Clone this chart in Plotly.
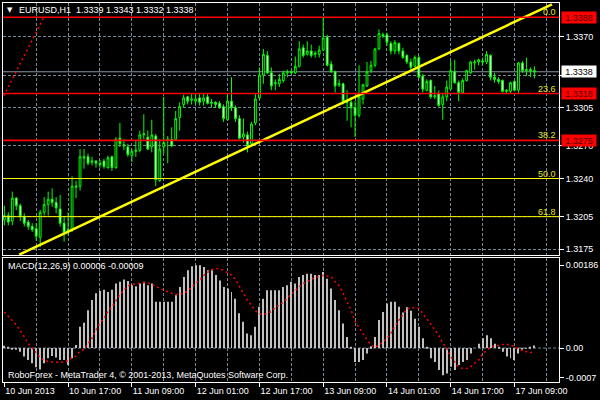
import plotly.graph_objects as go

# ---------------- data ----------------
bar_index = list(range(134))

opens = [1.3202,1.3206,1.3201,1.3222,1.3215,1.3205,1.3200,1.3196,1.3194,1.3186,
         1.3209,1.3216,1.3221,1.3218,1.3212,1.3199,1.3192,1.3193,1.3232,1.3233,
         1.3260,1.3260,1.3255,1.3256,1.3254,1.3256,1.3250,1.3260,1.3250,1.3277,
         1.3271,1.3269,1.3261,1.3265,1.3266,1.3280,1.3278,1.3269,1.3279,1.3238,
         1.3269,1.3275,1.3276,1.3276,1.3296,1.3308,1.3315,1.3312,1.3311,1.3314,
         1.3311,1.3315,1.3309,1.3310,1.3309,1.3306,1.3294,1.3311,1.3305,1.3295,
         1.3278,1.3280,1.3272,1.3291,1.3314,1.3335,1.3353,1.3337,1.3327,1.3327,
         1.3330,1.3337,1.3338,1.3337,1.3343,1.3360,1.3354,1.3357,1.3354,1.3354,
         1.3358,1.3370,1.3345,1.3338,1.3326,1.3327,1.3311,1.3310,1.3305,1.3298,
         1.3313,1.3325,1.3339,1.3344,1.3359,1.3372,1.3372,1.3364,1.3357,1.3364,
         1.3357,1.3353,1.3347,1.3343,1.3351,1.3334,1.3321,1.3330,1.3315,1.3318,
         1.3308,1.3315,1.3322,1.3338,1.3328,1.3319,1.3330,1.3337,1.3346,1.3347,
         1.3348,1.3347,1.3353,1.3333,1.3331,1.3330,1.3320,1.3320,1.3329,1.3321,
         1.3346,1.3339,1.3340,1.3339]
highs = [1.3215,1.3209,1.3228,1.3223,1.3217,1.3208,1.3202,1.3199,1.3199,1.3211,
         1.3223,1.3228,1.3231,1.3223,1.3225,1.3205,1.3209,1.3242,1.3238,1.3267,
         1.3267,1.3263,1.3260,1.3257,1.3257,1.3258,1.3261,1.3261,1.3278,1.3291,
         1.3276,1.3272,1.3267,1.3275,1.3284,1.3299,1.3284,1.3294,1.3281,1.3276,
         1.3315,1.3279,1.3287,1.3302,1.3310,1.3317,1.3316,1.3318,1.3317,1.3318,
         1.3318,1.3318,1.3313,1.3311,1.3311,1.3308,1.3318,1.3333,1.3307,1.3298,
         1.3295,1.3283,1.3292,1.3318,1.3342,1.3359,1.3357,1.3342,1.3331,1.3336,
         1.3339,1.3340,1.3340,1.3352,1.3366,1.3363,1.3366,1.3363,1.3357,1.3362,
         1.3388,1.3372,1.3348,1.3339,1.3331,1.3328,1.3321,1.3315,1.3311,1.3344,
         1.3327,1.3347,1.3348,1.3360,1.3377,1.3374,1.3374,1.3366,1.3367,1.3365,
         1.3360,1.3354,1.3350,1.3353,1.3353,1.3336,1.3331,1.3331,1.3325,1.3321,
         1.3318,1.3330,1.3348,1.3349,1.3330,1.3332,1.3340,1.3348,1.3349,1.3350,
         1.3351,1.3357,1.3354,1.3337,1.3333,1.3331,1.3322,1.3329,1.3330,1.3347,
         1.3348,1.3351,1.3342,1.3343]
lows = [1.3197,1.3197,1.3197,1.3211,1.3201,1.3196,1.3193,1.3191,1.3183,1.3177,
        1.3206,1.3206,1.3214,1.3208,1.3196,1.3182,1.3188,1.3191,1.3222,1.3229,
        1.3249,1.3252,1.3252,1.3250,1.3250,1.3249,1.3249,1.3247,1.3249,1.3269,
        1.3266,1.3260,1.3255,1.3260,1.3264,1.3276,1.3266,1.3264,1.3233,1.3237,
        1.3263,1.3254,1.3269,1.3275,1.3284,1.3305,1.3308,1.3308,1.3308,1.3307,
        1.3307,1.3308,1.3305,1.3305,1.3304,1.3292,1.3293,1.3302,1.3292,1.3276,
        1.3273,1.3264,1.3270,1.3289,1.3313,1.3327,1.3336,1.3321,1.3321,1.3324,
        1.3328,1.3333,1.3336,1.3336,1.3342,1.3351,1.3353,1.3351,1.3351,1.3351,
        1.3357,1.3343,1.3337,1.3319,1.3324,1.3308,1.3293,1.3287,1.3278,1.3296,
        1.3308,1.3324,1.3337,1.3342,1.3358,1.3369,1.3362,1.3354,1.3354,1.3354,
        1.3350,1.3345,1.3340,1.3342,1.3332,1.3319,1.3320,1.3313,1.3313,1.3306,
        1.3294,1.3311,1.3321,1.3327,1.3311,1.3318,1.3329,1.3336,1.3340,1.3344,
        1.3344,1.3345,1.3330,1.3328,1.3327,1.3319,1.3318,1.3318,1.3320,1.3318,
        1.3337,1.3334,1.3333,1.3332]
closes = [1.3206,1.3200,1.3222,1.3215,1.3205,1.3199,1.3196,1.3193,1.3187,1.3209,
          1.3216,1.3221,1.3218,1.3213,1.3199,1.3190,1.3193,1.3233,1.3233,1.3260,
          1.3259,1.3254,1.3256,1.3254,1.3253,1.3251,1.3259,1.3250,1.3276,1.3272,
          1.3270,1.3262,1.3265,1.3266,1.3280,1.3281,1.3267,1.3280,1.3239,1.3267,
          1.3273,1.3276,1.3270,1.3295,1.3306,1.3314,1.3311,1.3313,1.3313,1.3310,
          1.3314,1.3309,1.3310,1.3308,1.3305,1.3295,1.3311,1.3305,1.3295,1.3277,
          1.3281,1.3270,1.3290,1.3313,1.3335,1.3354,1.3337,1.3325,1.3328,1.3331,
          1.3337,1.3338,1.3337,1.3343,1.3359,1.3353,1.3357,1.3353,1.3355,1.3358,
          1.3369,1.3344,1.3338,1.3325,1.3327,1.3311,1.3310,1.3305,1.3298,1.3315,
          1.3326,1.3338,1.3344,1.3359,1.3373,1.3371,1.3365,1.3357,1.3365,1.3357,
          1.3351,1.3347,1.3342,1.3351,1.3333,1.3322,1.3329,1.3315,1.3316,1.3307,
          1.3315,1.3324,1.3339,1.3328,1.3319,1.3330,1.3339,1.3347,1.3347,1.3349,
          1.3347,1.3354,1.3333,1.3331,1.3329,1.3320,1.3321,1.3328,1.3321,1.3346,
          1.3339,1.3340,1.3339,1.3338]

macd_main = [0.00005,0.00001,-0.00002,-0.00004,-0.00008,-0.00019,-0.00027,-0.00034,-0.00043,-0.00048,
             -0.00034,-0.00023,-0.00018,-0.00021,-0.00027,-0.00027,-0.00038,-0.00023,0.00007,0.00048,
             0.00057,0.00085,0.00108,0.00123,0.00128,0.00131,0.00126,0.00131,0.00145,0.00149,
             0.00154,0.00151,0.00141,0.00139,0.00145,0.00149,0.00141,0.00145,0.00104,0.00104,
             0.00104,0.00104,0.00104,0.00119,0.00137,0.00160,0.00175,0.00184,0.00186,0.00186,
             0.00182,0.00175,0.00175,0.00164,0.00152,0.00137,0.00134,0.00126,0.00111,0.00078,
             0.00059,0.00033,0.00029,0.00048,0.00093,0.00111,0.00130,0.00130,0.00130,0.00130,
             0.00137,0.00141,0.00149,0.00145,0.00160,0.00164,0.00167,0.00167,0.00164,0.00164,
             0.00171,0.00156,0.00134,0.00108,0.00085,0.00055,0.00025,0.00003,-0.00031,-0.00031,
             -0.00027,-0.00012,0.00004,0.00025,0.00063,0.00081,0.00100,0.00104,0.00104,0.00093,
             0.00080,0.00092,0.00084,0.00066,0.00048,0.00022,0.00003,-0.00023,-0.00031,-0.00049,
             -0.00061,-0.00057,-0.00042,-0.00049,-0.00038,-0.00031,-0.00027,-0.00012,0.00000,0.00010,
             0.00022,0.00029,0.00022,0.00010,0.00003,-0.00008,-0.00019,-0.00023,-0.00027,-0.00012,
             -0.00004,-0.00001,0.00001,0.00006]
macd_signal = [0.00081,0.00072,0.00063,0.00052,0.00040,0.00025,0.00010,0.00000,-0.00010,-0.00021,
               -0.00027,-0.00030,-0.00031,-0.00032,-0.00032,-0.00032,-0.00028,-0.00022,-0.00018,-0.00007,
               -0.00003,0.00010,0.00022,0.00041,0.00056,0.00067,0.00082,0.00093,0.00108,0.00120,
               0.00131,0.00139,0.00143,0.00144,0.00146,0.00147,0.00146,0.00143,0.00139,0.00134,
               0.00130,0.00126,0.00123,0.00121,0.00121,0.00123,0.00128,0.00137,0.00146,0.00152,
               0.00163,0.00170,0.00176,0.00179,0.00178,0.00175,0.00170,0.00164,0.00154,0.00139,
               0.00121,0.00107,0.00096,0.00084,0.00077,0.00076,0.00078,0.00082,0.00091,0.00097,
               0.00103,0.00112,0.00121,0.00131,0.00138,0.00145,0.00149,0.00154,0.00159,0.00161,
               0.00163,0.00162,0.00160,0.00149,0.00140,0.00123,0.00105,0.00085,0.00060,0.00046,
               0.00030,0.00019,0.00007,0.00002,0.00006,0.00013,0.00022,0.00034,0.00049,0.00063,
               0.00075,0.00088,0.00090,0.00091,0.00089,0.00078,0.00067,0.00054,0.00041,0.00029,
               0.00011,0.00000,-0.00019,-0.00031,-0.00042,-0.00046,-0.00046,-0.00042,-0.00034,-0.00027,
               -0.00013,-0.00006,0.00002,0.00005,0.00007,0.00008,0.00009,0.00007,0.00004,-0.00001,
               -0.00006,-0.00008,-0.00010,-0.00009]

time_label_index = [0, 16, 32, 48, 64, 80, 96, 112, 128]
time_labels = ["10 Jun 2013", "10 Jun 17:00", "11 Jun 09:00", "12 Jun 01:00", "12 Jun 17:00",
               "13 Jun 09:00", "14 Jun 01:00", "14 Jun 17:00", "17 Jun 09:00"]
grid_index = [8, 16, 24, 32, 40, 48, 56, 64, 72, 80, 88, 96, 104, 112, 120, 128, 136]

# 1.3335 label is fully hidden behind the bid box in the reference, so it has no text
price_ticks = [1.3175, 1.3205, 1.3240, 1.3270, 1.3305, 1.3335, 1.3370]
price_tick_text = ["1.3175", "1.3205", "1.3240", "1.3270", "1.3305", "", "1.3370"]
macd_ticks = [-0.00066, 0.0, 0.00186]
macd_tick_text = ["-0.0007", "0.00", "0.00186"]

fib_levels = [1.3388, 1.3318, 1.3275, 1.3240, 1.3205]
fib_labels = ["0.0", "23.6", "38.2", "50.0", "61.8"]
hlines_red = [1.3388, 1.3318, 1.3275]
hlines_red_text = ["1.3388", "1.3318", "1.3275"]
bid_price = 1.3338
bid_text = "1.3338"

trend_x = [3.74, 137.4]
trend_y = [1.31701, 1.33999]
fib_base_x = [-31.5, 9.9]
fib_base_y = [1.3091, 1.3388]

title_text = "EURUSD,H1  1.3339 1.3343 1.3332 1.3338"
macd_title = "MACD(12,26,9) 0.00006 -0.00009"
footer_text = "RoboForex - MetaTrader 4, \u00a9 2001-2013, MetaQuotes Software Corp."

# ---------------- style ----------------
FONT = "Liberation Sans"
FS = 9
GRID = "#778899"
LIME = "#00ff00"

fig = go.Figure()

fig.add_trace(go.Candlestick(
    x=bar_index, open=opens, high=highs, low=lows, close=closes,
    xaxis="x2", yaxis="y",
    increasing=dict(line=dict(color=LIME, width=1), fillcolor="#000000"),
    decreasing=dict(line=dict(color=LIME, width=1), fillcolor="#ffffff"),
    whiskerwidth=0, hoverinfo="skip",
))

fig.add_trace(go.Scatter(x=fib_base_x, y=fib_base_y, mode="lines", xaxis="x2", yaxis="y",
                         line=dict(color="#ff0000", width=1.5, dash="2px,3px"), hoverinfo="skip"))
fig.add_trace(go.Scatter(x=trend_x, y=trend_y, mode="lines", xaxis="x2", yaxis="y",
                         line=dict(color="#ffff00", width=2.5), hoverinfo="skip"))

fig.add_trace(go.Bar(x=bar_index, y=macd_main, xaxis="x", yaxis="y2", width=0.25,
                     marker=dict(color="#c0c0c0", line=dict(width=0)), hoverinfo="skip"))
fig.add_trace(go.Scatter(x=bar_index, y=macd_signal, mode="lines", xaxis="x", yaxis="y2",
                         line=dict(color="#ff0000", width=1.5, dash="2px,3px"), hoverinfo="skip"))

shapes = []
for lv in fib_levels:
    if lv in hlines_red:
        continue  # covered by the red horizontal line at the same price
    shapes.append(dict(type="line", xref="x2 domain", x0=0, x1=1, yref="y", y0=lv, y1=lv,
                       line=dict(color="#ffff00", width=1)))
for lv in hlines_red:
    shapes.append(dict(type="line", xref="x2 domain", x0=0, x1=1, yref="y", y0=lv, y1=lv,
                       line=dict(color="#ff0000", width=1.6)))
shapes.append(dict(type="line", xref="x2 domain", x0=0, x1=1, yref="y", y0=bid_price, y1=bid_price,
                   line=dict(color="#8c98a6", width=1), layer="below"))
shapes.append(dict(type="line", xref="x domain", x0=0, x1=1, yref="y2", y0=0, y1=0,
                   line=dict(color=GRID, width=1, dash="3px,2px"), layer="below"))

annotations = []
for lv, lab in zip(fib_levels, fib_labels):
    annotations.append(dict(xref="x2 domain", x=1, xanchor="right", xshift=-1,
                            yref="y", y=lv, yanchor="bottom", yshift=-2, showarrow=False,
                            text=lab, font=dict(family=FONT, size=FS, color="#e6e62a")))
for lv, lab in zip(hlines_red, hlines_red_text):
    annotations.append(dict(xref="paper", x=1, xanchor="left", xshift=1.5,
                            yref="y", y=lv, yanchor="middle", showarrow=False,
                            text=lab, bgcolor="#ff0000", width=34, height=11, borderpad=0,
                            font=dict(family=FONT, size=FS, color="#500000")))
annotations.append(dict(xref="paper", x=1, xanchor="left", xshift=1.5,
                        yref="y", y=bid_price, yanchor="middle", showarrow=False,
                        text=bid_text, bgcolor="#ffffff", width=34, height=11, borderpad=0,
                        font=dict(family=FONT, size=FS, color="#000000")))
annotations.append(dict(xref="paper", x=0, xanchor="left", xshift=2, yref="paper", y=1,
                        yanchor="middle", yshift=-6.5, showarrow=False, text="\u25bc",
                        font=dict(family="DejaVu Sans", size=7, color="#ffffff")))
annotations.append(dict(xref="paper", x=0, xanchor="left", xshift=14, yref="paper", y=1,
                        yanchor="middle", yshift=-6.5, showarrow=False, text=title_text,
                        font=dict(family=FONT, size=FS, color="#ffffff")))
annotations.append(dict(xref="paper", x=0, xanchor="left", xshift=3, yref="y2 domain", y=1,
                        yanchor="middle", yshift=-8.5, showarrow=False, text=macd_title,
                        font=dict(family=FONT, size=FS, color="#ffffff")))
annotations.append(dict(xref="paper", x=0, xanchor="left", xshift=3, yref="y2 domain", y=0,
                        yanchor="middle", yshift=7.5, showarrow=False, text=footer_text,
                        font=dict(family=FONT, size=FS, color="#ffffff")))

x_range = [-0.33, 139.17]
common_x = dict(range=x_range, showgrid=False, zeroline=False, showline=True, linecolor="#ffffff",
                linewidth=1, mirror=True,
                minor=dict(tickvals=grid_index, showgrid=True, gridcolor=GRID, griddash="3px,2px",
                           gridwidth=1, ticks=""))

fig.update_layout(
    width=600, height=400,
    paper_bgcolor="#000000", plot_bgcolor="#000000",
    margin=dict(l=2, r=40, t=2, b=18),
    showlegend=False, hovermode=False,
    boxgap=0.35,
    xaxis=dict(**common_x, anchor="y2", domain=[0, 1], tickmode="array",
               tickvals=time_label_index, ticktext=time_labels, ticks="outside", ticklen=4,
               tickcolor="#ffffff", tickwidth=1, ticklabelposition="outside right",
               tickfont=dict(family=FONT, size=FS, color="#ffffff"),
               rangeslider=dict(visible=False)),
    xaxis2=dict(**common_x, anchor="y", domain=[0, 1], matches="x", showticklabels=False,
                ticks="", rangeslider=dict(visible=False)),
    yaxis=dict(domain=[0.33421, 1.0], range=[1.316950, 1.340113], side="right",
               tickmode="array", tickvals=price_ticks, ticktext=price_tick_text,
               ticks="outside", ticklen=4, tickcolor="#ffffff", tickwidth=1,
               tickfont=dict(family=FONT, size=FS, color="#ffffff"),
               showgrid=True, gridcolor=GRID, griddash="3px,2px", gridwidth=1,
               zeroline=False, showline=True, linecolor="#ffffff", linewidth=1, mirror=True,
               anchor="x2"),
    yaxis2=dict(domain=[0.0, 0.32763], range=[-0.000762, 0.002028], side="right",
                tickmode="array", tickvals=macd_ticks, ticktext=macd_tick_text,
                ticks="outside", ticklen=4, tickcolor="#ffffff", tickwidth=1,
                tickfont=dict(family=FONT, size=FS, color="#ffffff"),
                showgrid=False, zeroline=False, showline=True, linecolor="#ffffff",
                linewidth=1, mirror=True, anchor="x"),
    shapes=shapes, annotations=annotations,
)

fig.write_html("out.html", config={"displayModeBar": False},
               post_script="document.body.style.margin='0';document.body.style.background='#000';")
